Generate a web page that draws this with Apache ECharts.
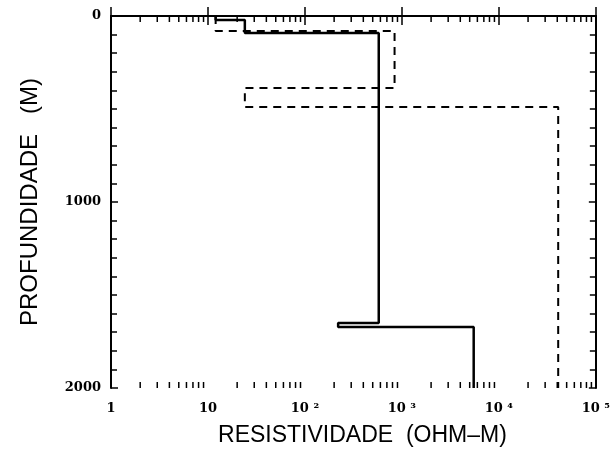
<!DOCTYPE html>
<html>
<head>
<meta charset="utf-8">
<script src="https://cdn.jsdelivr.net/npm/echarts@6/dist/echarts.min.js"></script>
<style>html,body{margin:0;padding:0;background:#fff}#c{width:613px;height:464px}</style>
</head>
<body>
<div id="c"></div>
<script>
// Resistivity (ohm-m) and depth (m) for the two layered models
var solidRes   = [12, 12, 24, 24, 577, 577, 220, 220, 5500, 5500];
var solidDepth = [0, 22, 22, 91, 91, 1650, 1650, 1672, 1672, 2000];
var dashRes    = [12, 12, 840, 840, 24, 24, 40900, 40900];
var dashDepth  = [0, 80, 80, 387, 387, 489, 489, 2000];
var xTickLabels = ['1', '10', '10 ²', '10 ³', '10 ⁴', '10 ⁵'];
var yTickLabels = ['0', '1000', '2000'];
var xName = 'RESISTIVIDADE  (OHM\u2013M)';
var yName = 'PROFUNDIDADE   (M)';

function pairs(a, b){ return a.map(function(v,i){ return [v, b[i]]; }); }
var minorVals = [];
for (var d = 0; d < 5; d++) for (var k = 2; k <= 9; k++) minorVals.push([k * Math.pow(10, d)]);

var chart = echarts.init(document.getElementById('c'));
var labelFont = {fontFamily: 'DejaVu Serif', fontWeight: 'bold', fontSize: 13, color: '#000'};
chart.setOption({
  animation: false,
  grid: {left: 111, top: 16, right: 11, bottom: 76},
  xAxis: [{
    type: 'log', logBase: 10, min: 1, max: 100000, position: 'bottom',
    name: xName, nameLocation: 'middle', nameGap: 36,
    nameTextStyle: {fontFamily: 'Liberation Sans', fontSize: 23, color: '#000', padding: [0, 0, 0, 18]},
    axisLine: {lineStyle: {color: '#000', width: 2}},
    axisTick: {inside: true, length: 9, lineStyle: {color: '#000', width: 1.5}},
    axisLabel: Object.assign({margin: 14, formatter: function(v){
      var i = Math.round(Math.log10(v)); return xTickLabels[i] || ''; }}, labelFont),
    splitLine: {show: false}
  }, {
    type: 'log', logBase: 10, min: 1, max: 100000, position: 'top',
    axisLine: {lineStyle: {color: '#000', width: 2}},
    axisTick: {inside: true, length: 9, lineStyle: {color: '#000', width: 1.5}},
    axisLabel: {show: false}, splitLine: {show: false}
  }],
  yAxis: [{
    type: 'value', inverse: true, min: 0, max: 2000, interval: 1000, position: 'left',
    name: yName, nameLocation: 'middle', nameGap: 69, nameRotate: 90,
    nameTextStyle: {fontFamily: 'Liberation Sans', fontSize: 24, color: '#000'},
    axisLine: {show: true, lineStyle: {color: '#000', width: 2}},
    axisTick: {inside: true, length: 7, lineStyle: {color: '#000', width: 1.5}},
    minorTick: {show: true, splitNumber: 10, length: 6, lineStyle: {color: '#000', width: 1.5}},
    axisLabel: Object.assign({margin: 10, formatter: function(v){
      return yTickLabels[Math.round(v/1000)]; }}, labelFont),
    splitLine: {show: false}
  }, {
    type: 'value', inverse: true, min: 0, max: 2000, interval: 1000, position: 'right',
    axisLine: {show: true, lineStyle: {color: '#000', width: 2}},
    axisTick: {inside: true, length: 7, lineStyle: {color: '#000', width: 1.5}},
    minorTick: {show: true, splitNumber: 10, length: 6, lineStyle: {color: '#000', width: 1.5}},
    axisLabel: {show: false}, splitLine: {show: false}
  }],
  series: [{
    type: 'custom', xAxisIndex: 0, yAxisIndex: 0, clip: false, silent: true,
    data: minorVals,
    renderItem: function(params, api){
      var b = api.coord([api.value(0), 2000]);
      var t = api.coord([api.value(0), 0]);
      var st = {stroke: '#000', lineWidth: 1.5};
      return {type: 'group', children: [
        {type: 'line', shape: {x1: b[0], y1: b[1], x2: b[0], y2: b[1] - 6}, style: st},
        {type: 'line', shape: {x1: t[0], y1: t[1], x2: t[0], y2: t[1] + 6}, style: st}
      ]};
    }
  }, {
    type: 'line', data: pairs(solidRes, solidDepth), symbol: 'none',
    lineStyle: {color: '#000', width: 2.5}
  }, {
    type: 'line', data: pairs(dashRes, dashDepth), symbol: 'none',
    lineStyle: {color: '#000', width: 2, type: [8, 6]}
  }]
});
</script>
</body>
</html>
